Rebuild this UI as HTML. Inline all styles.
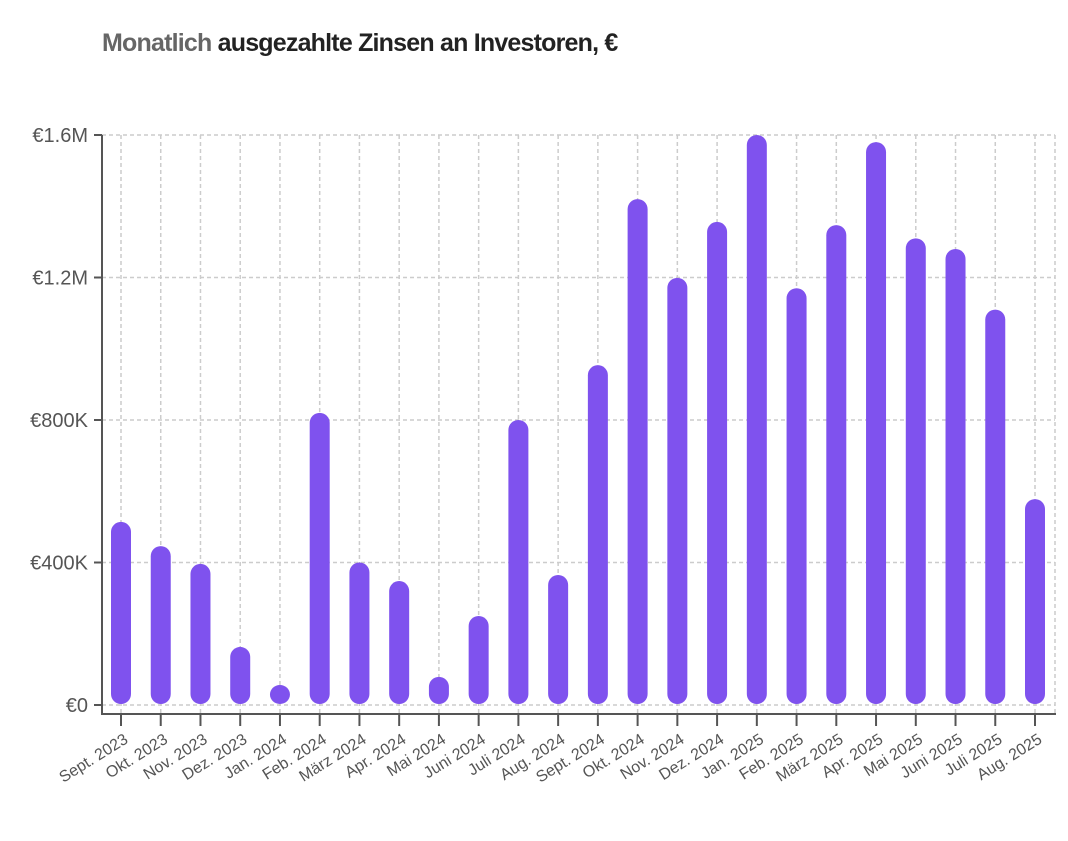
<!DOCTYPE html>
<html><head><meta charset="utf-8"><style>
body{margin:0;background:#fff;font-family:"Liberation Sans",sans-serif}
</style></head><body>
<svg width="1068" height="836" xmlns="http://www.w3.org/2000/svg">
<text x="102" y="51" font-size="25" font-weight="bold" letter-spacing="-0.8"><tspan fill="#666">Monatlich</tspan><tspan fill="#222"> ausgezahlte Zinsen an Investoren, €</tspan></text>
<g id="grid"></g><g id="bars"></g><g id="axes"></g>
</svg>
<script>
const categories=["Sept. 2023","Okt. 2023","Nov. 2023","Dez. 2023","Jan. 2024","Feb. 2024","März 2024","Apr. 2024","Mai 2024","Juni 2024","Juli 2024","Aug. 2024","Sept. 2024","Okt. 2024","Nov. 2024","Dez. 2024","Jan. 2025","Feb. 2025","März 2025","Apr. 2025","Mai 2025","Juni 2025","Juli 2025","Aug. 2025"];
const values=[514000,446000,396000,163000,48000,820000,400000,348000,79000,250000,800000,365000,954000,1420000,1199000,1356000,1600000,1170000,1347000,1580000,1310000,1280000,1110000,578000];
const yTicks=[0,400000,800000,1200000,1600000];
const yTickLabels=["€0","€400K","€800K","€1.2M","€1.6M"];
const NS="http://www.w3.org/2000/svg";
const x0=102,x1=1055,yTop=135,yBase=705;
const y=v=>yBase-(v/1600000)*(yBase-yTop);
const step=(1035-121)/(categories.length-1);
const x=i=>121+i*step;
function mk(tag,attrs,parent){const e=document.createElementNS(NS,tag);for(const k in attrs)e.setAttribute(k,attrs[k]);parent.appendChild(e);return e;}
const grid=document.getElementById('grid'),bars=document.getElementById('bars'),axes=document.getElementById('axes');
yTicks.forEach((t,i)=>{
 const l=mk('line',{x1:x0,x2:x1,y1:y(t),y2:y(t),stroke:'#ccc','stroke-dasharray':'4 3','stroke-width':1.5},grid);
 
 
 mk('line',{x1:x0-8,x2:x0,y1:y(t),y2:y(t),stroke:'#555','stroke-width':2},axes);
 const tx=mk('text',{x:x0-14,y:y(t)+7,'text-anchor':'end','font-size':20,fill:'#555'},axes);
 tx.textContent=yTickLabels[i];
 
 
});
mk('line',{x1:x1,x2:x1,y1:yTop,y2:714,stroke:'#ccc','stroke-dasharray':'4 3','stroke-width':1.5},grid);
categories.forEach((c,i)=>{
 const gl=mk('line',{x1:x(i),x2:x(i),y1:yTop,y2:714,stroke:'#ccc','stroke-dasharray':'4 3','stroke-width':1.5},grid);
 
 
 const top=y(values[i]),h=Math.max(yBase-top,20);
 const r=mk('rect',{x:x(i)-10,y:yBase-h,width:20,height:h-1,rx:10,fill:'#7f52ee'},bars);
 
 
 mk('line',{x1:x(i),x2:x(i),y1:714,y2:726,stroke:'#555','stroke-width':2},axes);
 const t=mk('text',{x:x(i)+8,y:742,'text-anchor':'end','font-size':16,fill:'#555',transform:`rotate(-32 ${x(i)+8} 742)`},axes);
 t.textContent=c;
 
 
});
const ya=mk('line',{x1:x0,x2:x0,y1:yTop,y2:715,stroke:'#555','stroke-width':2},axes);


const xa=mk('line',{x1:x0-1,x2:x1+1,y1:714,y2:714,stroke:'#555','stroke-width':2},axes);


</script>
</body></html>
